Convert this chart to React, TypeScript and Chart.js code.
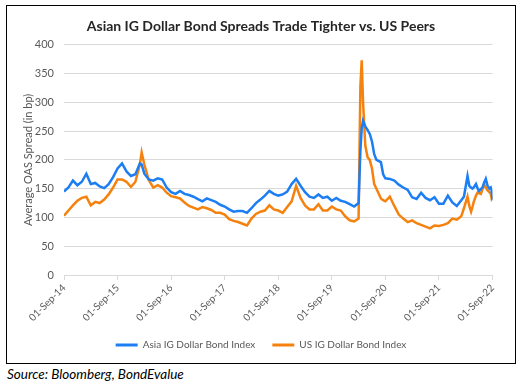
import React, { useEffect, useRef } from "react";
import { Chart, registerables } from "chart.js";

Chart.register(...registerables);

const TITLE = "Asian IG Dollar Bond Spreads Trade Tighter vs. US Peers";
const Y_TITLE = "Average OAS Spread (in bp)";
const SOURCE = "Source: Bloomberg, BondEvalue";
const SERIES_NAMES = ["Asia IG Dollar Bond Index", "US IG Dollar Bond Index"];
const X_TICK_LABELS = [
  "01-Sep-14", "01-Sep-15", "01-Sep-16", "01-Sep-17", "01-Sep-18",
  "01-Sep-19", "01-Sep-20", "01-Sep-21", "01-Sep-22",
];

// months elapsed since 01-Sep-14
const MONTHS = [
  0, 1, 2, 3, 4, 5, 6, 7, 8, 9, 10, 11, 12, 13, 14, 15, 16, 17, 17.4, 18,
  19, 20, 21, 22, 23, 24, 25, 26, 27, 28, 29, 30, 31, 32, 33, 34, 35, 36,
  37, 38, 39, 40, 41, 42, 43, 44, 45, 46, 47, 48, 49, 50, 51, 52, 53, 54,
  55, 56, 57, 58, 59, 60, 61, 62, 63, 64, 65, 66, 66.4, 66.7, 67, 67.5, 68,
  68.5, 69, 69.5, 70, 71, 71.5, 72, 73, 74, 75, 76, 77, 78, 79, 80, 81, 82,
  83, 84, 85, 86, 87, 88, 89, 89.6, 90.4, 90.8, 91.2, 91.5, 91.8, 92.3, 92.7,
  93, 93.4, 93.8, 94.1, 94.5, 94.9, 95.3, 95.6, 95.8, 96,
];

const ASIA = [
  145, 152, 164, 156, 162, 176, 158, 160, 154, 151, 158, 170, 185, 194, 180, 172, 175, 194, 192, 176,
  166, 164, 168, 166, 152, 144, 141, 146, 141, 139, 136, 132, 128, 133, 130, 127, 122, 119,
  114, 110, 111, 111, 108, 116, 125, 131, 138, 146, 141, 138, 140, 145, 158, 167, 155, 144,
  136, 134, 140, 134, 136, 129, 134, 129, 127, 123, 119, 125, 215, 255, 268, 258, 252,
  245, 232, 210, 200, 196, 175, 168, 167, 164, 157, 152, 148, 135, 132, 143, 134, 130,
  135, 124, 124, 138, 126, 120, 130, 136, 172, 155, 152, 150, 152, 158, 150,
  146, 149, 153, 160, 167, 155, 150, 152, 147, 130,
];

const US = [
  103, 112, 121, 129, 134, 136, 121, 127, 125, 131, 140, 152, 166, 166, 162, 153, 162, 192, 213, 192,
  165, 152, 156, 152, 143, 137, 135, 133, 126, 120, 117, 114, 118, 116, 113, 108, 108, 105,
  97, 94, 92, 89, 86, 98, 106, 110, 112, 121, 114, 112, 108, 118, 128, 155, 134, 121,
  114, 114, 123, 112, 112, 119, 114, 112, 102, 95, 93, 98, 328, 373, 300, 225, 205,
  200, 185, 158, 150, 133, 130, 128, 136, 120, 105, 98, 92, 95, 90, 87, 84, 81,
  86, 85, 87, 90, 98, 96, 102, 116, 136, 120, 110, 118, 127, 138, 144,
  142, 141, 150, 158, 152, 147, 144, 141, 133, 136,
];

const FONT = "Lato, 'DejaVu Sans', sans-serif";
const TEXT = "#595959";
const GRID = "#d9d9d9";
const BLUE = "#1c7ef2";
const ORANGE = "#f5820f";

export default function App() {
  const ref = useRef<HTMLCanvasElement | null>(null);

  useEffect(() => {
    if (!ref.current) return;
    const toPoints = (vals: number[]) => MONTHS.map((m, i) => ({ x: m, y: vals[i] }));
    const chart = new Chart(ref.current, {
      type: "line",
      data: {
        datasets: [
          {
            label: SERIES_NAMES[0],
            data: toPoints(ASIA),
            borderColor: BLUE,
            backgroundColor: BLUE,
            borderWidth: 2.5,
            pointRadius: 0,
            tension: 0,
          },
          {
            label: SERIES_NAMES[1],
            data: toPoints(US),
            borderColor: ORANGE,
            backgroundColor: ORANGE,
            borderWidth: 2.5,
            pointRadius: 0,
            tension: 0,
          },
        ],
      },
      options: {
        animation: false,
        responsive: false,
        maintainAspectRatio: false,
        layout: { padding: { left: 0, right: 0, top: 0, bottom: 3 } },
        plugins: {
          title: {
            display: true,
            text: TITLE,
            color: "#262626",
            font: { family: FONT, size: 14, weight: "bold" },
            padding: { top: 12, bottom: 10 },
          },
          legend: {
            position: "bottom",
            labels: {
              boxWidth: 22,
              boxHeight: 3,
              color: TEXT,
              font: { family: FONT, size: 10 },
              padding: 17,
              generateLabels: (c: any) =>
                Chart.defaults.plugins.legend.labels.generateLabels(c).map((l: any) => ({
                  ...l,
                  fillStyle: l.strokeStyle,
                  lineWidth: 0,
                })),
            },
          },
          tooltip: { enabled: false },
        },
        scales: {
          x: {
            type: "linear",
            min: 0,
            max: 96,
            ticks: {
              stepSize: 12,
              autoSkip: false,
              maxRotation: 45,
              minRotation: 45,
              color: TEXT,
              font: { family: FONT, size: 10 },
              padding: 2,
              callback: (v: any) => X_TICK_LABELS[Math.round(Number(v) / 12)] ?? "",
            },
            grid: { drawOnChartArea: false, drawTicks: true, tickLength: 5, color: GRID },
            border: { color: GRID },
            afterFit: (s: any) => {
              s.height = 48;
            },
          },
          y: {
            min: 0,
            max: 400,
            ticks: { stepSize: 50, color: TEXT, font: { family: FONT, size: 11 }, padding: 10 },
            grid: { color: GRID, drawTicks: false },
            border: { display: false },
            title: {
              display: true,
              text: Y_TITLE,
              color: TEXT,
              font: { family: FONT, size: 11 },
              padding: { top: 14.5, bottom: 0 },
            },
            afterFit: (s: any) => {
              s.width = 57;
            },
          },
          yRightSpacer: {
            position: "right",
            min: 0,
            max: 400,
            ticks: { display: false },
            grid: { display: false, drawOnChartArea: false },
            border: { display: false },
            afterFit: (s: any) => {
              s.width = 22.5;
            },
          },
        },
      },
    } as any);
    return () => chart.destroy();
  }, []);

  return (
    <div style={{ position: "fixed", left: 0, top: 0, width: 519, height: 387, background: "#fff" }}>
      <div
        style={{
          position: "absolute",
          left: 6,
          top: 5,
          width: 510,
          height: 359,
          boxSizing: "border-box",
          border: "1px solid #000",
        }}
      >
        <canvas ref={ref} width={508} height={357} style={{ display: "block", width: 508, height: 357 }} />
      </div>
      <div
        style={{
          position: "absolute",
          left: 7,
          top: 365,
          fontFamily: FONT,
          fontStyle: "italic",
          fontSize: 13.5,
          lineHeight: "18px",
          color: "#000",
          whiteSpace: "nowrap",
        }}
      >
        {SOURCE}
      </div>
    </div>
  );
}
